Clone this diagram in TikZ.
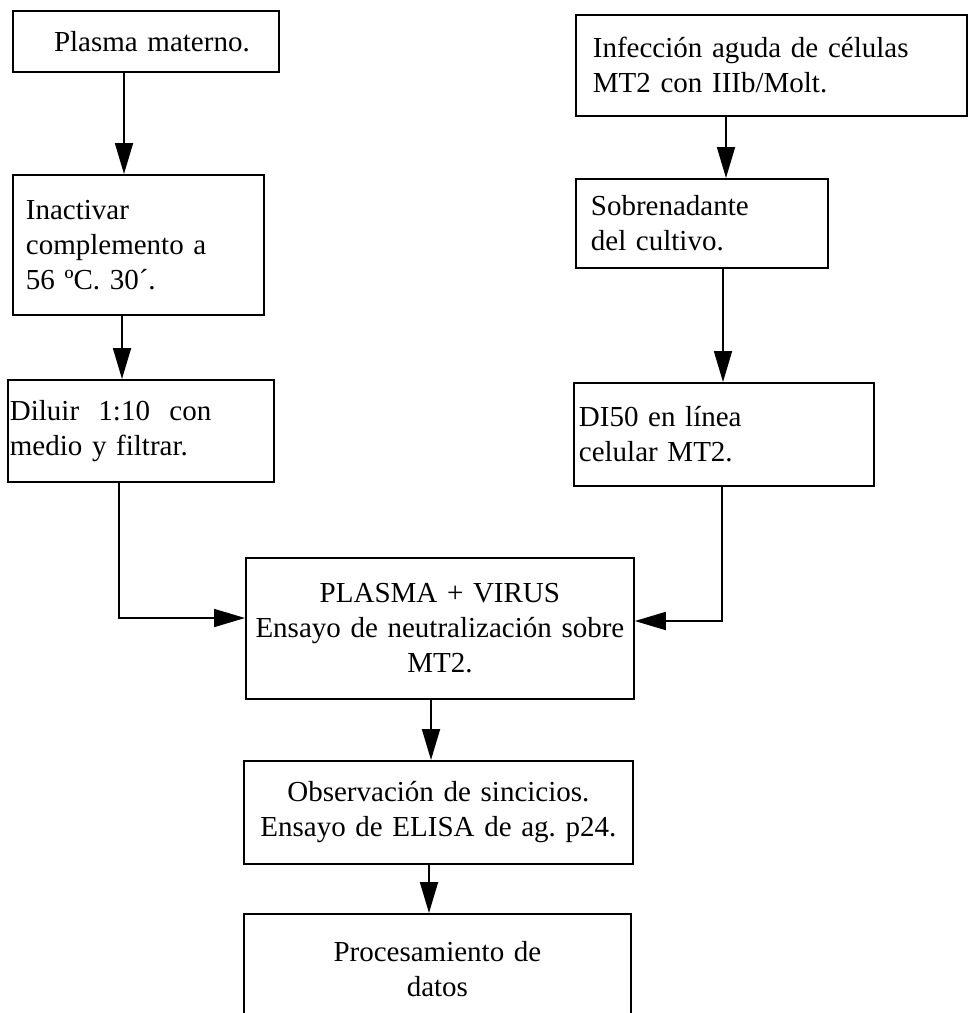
\documentclass[tikz,border=0pt]{standalone}
\usepackage{fontspec}
\setmainfont{Liberation Serif}
\usetikzlibrary{arrows.meta}
\frenchspacing
\begin{document}
\begin{tikzpicture}[x=1pt,y=-1pt,
  box/.style={draw, line width=1.8pt, anchor=north west, font=\fontsize{29}{35}\selectfont\frenchspacing, inner ysep=0pt},
  lbox/.style={box, align=left},
  cbox/.style={box, align=center, inner xsep=0pt},
  arr/.style={line width=1.8pt, -{Triangle[length=31pt,width=18pt]}}]
\useasboundingbox (0,0) rectangle (970,1013);
\clip (0,0) rectangle (970,1013);
\fill[white] (0,0) rectangle (970,1013);

\node[cbox, minimum width=266pt, minimum height=61pt, text width=266pt] (A) at (12,10) {\hspace*{12pt}Plasma materno.};
\node[lbox, minimum width=251pt, minimum height=140pt, inner xsep=13pt, text width=225pt] (B) at (12,174) {Inactivar\\complemento a\\56 ºC. 30´.};
\node[lbox, minimum width=266pt, minimum height=102pt, inner xsep=2pt, text width=262pt] (C) at (7,379) {Diluir\ \ 1:10\ \ con\\medio y filtrar.};

\node[lbox, minimum width=391pt, minimum height=101pt, inner xsep=17pt, text width=357pt] (D) at (575,14) {Infección aguda de células\\MT2 con IIIb/Molt.};
\node[lbox, minimum width=252pt, minimum height=89pt, inner xsep=15pt, text width=222pt] (E) at (575,178) {Sobrenadante\\del cultivo.};
\node[lbox, minimum width=300pt, minimum height=103pt, inner xsep=5pt, text width=290pt] (F) at (573,382) {DI50 en línea\\celular MT2.};

\node[cbox, minimum width=388pt, minimum height=141pt, text width=388pt] (G) at (245,557) {PLASMA + VIRUS\\Ensayo de neutralización sobre\\MT2.};
\node[cbox, minimum width=389pt, minimum height=103pt, text width=389pt] (H) at (243,760) {Observación de sincicios.\\Ensayo de ELISA de ag. p24.};
\node[cbox, minimum width=387pt, minimum height=110pt, text width=387pt] (I) at (243,913) {Procesamiento de\\datos};

\coordinate (x1) at (124,0);
\coordinate (x2) at (122,0);
\coordinate (x3) at (726,0);
\coordinate (x4) at (723,0);
\coordinate (x5) at (431,0);
\coordinate (x6) at (429,0);
\coordinate (cl) at (119,618);
\coordinate (cr) at (722,621);

\draw[arr] (A.south -| x1) -- (B.north -| x1);
\draw[arr] (B.south -| x2) -- (C.north -| x2);
\draw[arr] (D.south -| x3) -- (E.north -| x3);
\draw[arr] (E.south -| x4) -- (F.north -| x4);
\draw[arr] (C.south -| cl) |- (G.west |- cl);
\draw[arr] (F.south -| cr) |- (G.east |- cr);
\draw[arr] (G.south -| x5) -- (H.north -| x5);
\draw[arr] (H.south -| x6) -- (I.north -| x6);
\end{tikzpicture}
\end{document}
